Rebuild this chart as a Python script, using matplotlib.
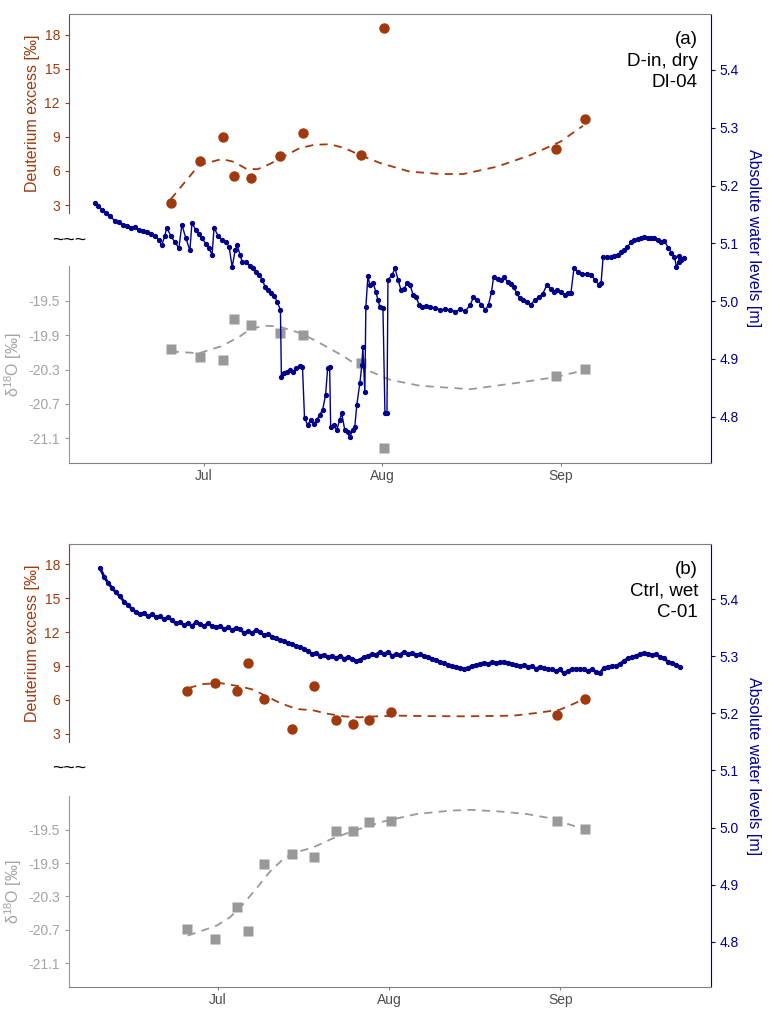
import numpy as np
import pandas as pd
import matplotlib
matplotlib.use("Agg")
import matplotlib.pyplot as plt
import matplotlib.dates as mdates

plt.rcParams['font.family'] = ['Liberation Sans', 'DejaVu Sans']
plt.rcParams['mathtext.default'] = 'regular'
plt.rcParams['axes.unicode_minus'] = False

BROWN = "#A03A0E"
GREY = "#999999"
GREY_TXT = "#A3A3A3"
NAVY = "#00008B"
FRAME = "#808080"
base = pd.Timestamp("2021-07-01")

# ---- panel (a) D-in, dry, DI-04 ----
dates_a = ["2021-06-25 06:00", "2021-06-30 06:00", "2021-07-04 06:00", "2021-07-06 06:00",
           "2021-07-09 06:00", "2021-07-14 06:00", "2021-07-18 06:00", "2021-07-28 06:00",
           "2021-08-01 06:00", "2021-08-31 06:00", "2021-09-05 06:00"]
dexcess_a = [3.15, 6.9, 9.0, 5.55, 5.35, 7.3, 9.35, 7.4, 18.6, 7.9, 10.6]
d18o_a = [-20.06, -20.15, -20.19, -19.71, -19.78, -19.88, -19.90, -20.23, -21.22, -20.38, -20.29]

# smoothed curves (days after 1 Jul)
dex_fit_a_days = [-5.8, -4.0, -0.9, 3.1, 5.2, 7.3, 9.3, 11.4, 14.0, 16.6, 19.2, 21.9, 24.5,
                  27.1, 30.6, 35.8, 41.1, 45.1, 51.0, 56.8, 62.0, 65.9]
dex_fit_a = [3.5, 4.6, 6.5, 7.05, 6.8, 6.2, 6.15, 6.6, 7.3, 8.0, 8.3, 8.35, 8.0,
             7.4, 6.7, 5.94, 5.73, 5.73, 6.38, 7.4, 8.58, 9.97]
o_fit_a_days = [-5.77, -0.87, 2.97, 6.12, 8.22, 11.01, 13.11, 16.96, 20.10, 24.13, 27.10,
                32.34, 37.59, 46.33, 55.07, 61.01, 66.08]
o_fit_a = [-20.09, -20.11, -20.03, -19.92, -19.82, -19.79, -19.80, -19.88, -19.99, -20.14,
           -20.27, -20.42, -20.49, -20.53, -20.45, -20.39, -20.31]

# water levels (days after 1 Jul, m)
days_a = [-18.88, -18.36, -17.66, -16.96, -16.26, -15.56, -14.86, -14.16, -13.46, -12.76,
          -12.06, -11.36, -10.66, -9.97, -9.27, -8.57, -7.87, -7.34, -6.82, -6.47,
          -5.77, -5.07, -4.37, -3.85, -3.15, -2.45, -2.10, -1.40, -0.87, -0.35,
          0.35, 0.87, 1.40, 1.75, 2.45, 3.15, 3.85, 4.37, 4.90, 5.42,
          5.77, 6.29, 6.64, 7.34, 8.04, 8.57, 9.09, 9.62, 10.14, 10.66,
          11.19, 11.71, 12.24, 12.76, 13.29, 13.46, 13.99, 14.51, 15.04, 15.56,
          16.08, 16.61, 17.13, 17.48, 18.01, 18.53, 19.06, 19.58, 20.11, 20.63,
          21.15, 21.50, 21.85, 22.03, 22.55, 23.08, 23.60, 23.95, 24.48, 25.00,
          25.35, 25.87, 26.22, 26.57, 27.10, 27.45, 27.62, 27.97, 28.15, 28.50,
          28.85, 29.37, 29.90, 30.25, 30.59, 31.12, 31.47, 31.82, 31.99, 32.69,
          33.22, 33.74, 34.27, 34.79, 35.32, 35.84, 36.36, 36.89, 37.41, 37.94,
          38.64, 39.34, 40.21, 41.08, 41.96, 42.83, 43.71, 44.58, 45.46, 46.33,
          46.85, 47.55, 48.25, 48.95, 49.48, 50.00, 50.35, 51.05, 51.57, 52.10,
          52.80, 53.32, 53.85, 54.37, 54.90, 55.42, 56.12, 56.82, 57.52, 58.22,
          58.92, 59.62, 60.32, 60.84, 61.36, 62.06, 62.76, 63.29, 63.81, 64.34,
          65.04, 65.74, 66.61, 67.31, 68.01, 68.71, 69.06, 69.41, 70.11, 70.81,
          71.33, 72.03, 72.55, 73.08, 73.60, 74.30, 74.83, 75.53, 76.05, 76.58,
          77.28, 77.80, 78.32, 79.02, 79.55, 80.07, 80.77, 81.30, 81.82, 82.17,
          82.52, 82.69, 83.04, 83.39]
level_a = [5.170, 5.165, 5.158, 5.153, 5.147, 5.139, 5.137, 5.132, 5.130, 5.127,
           5.128, 5.123, 5.121, 5.120, 5.116, 5.113, 5.106, 5.097, 5.113, 5.127,
           5.113, 5.102, 5.092, 5.132, 5.109, 5.088, 5.135, 5.123, 5.116, 5.109,
           5.099, 5.092, 5.080, 5.127, 5.113, 5.106, 5.102, 5.094, 5.059, 5.088,
           5.097, 5.080, 5.068, 5.068, 5.061, 5.057, 5.050, 5.045, 5.037, 5.024,
           5.019, 5.014, 5.009, 4.998, 4.985, 4.869, 4.876, 4.877, 4.881, 4.877,
           4.884, 4.888, 4.886, 4.798, 4.786, 4.794, 4.787, 4.794, 4.803, 4.812,
           4.838, 4.884, 4.886, 4.782, 4.786, 4.777, 4.794, 4.806, 4.777, 4.773,
           4.765, 4.777, 4.782, 4.820, 4.858, 4.889, 4.920, 4.842, 4.990, 5.043,
           5.028, 5.032, 5.016, 5.002, 4.990, 4.988, 4.806, 4.806, 5.037, 5.045,
           5.057, 5.037, 5.019, 5.021, 5.032, 5.028, 5.011, 5.007, 4.994, 4.990,
           4.992, 4.990, 4.988, 4.985, 4.986, 4.985, 4.982, 4.986, 4.983, 4.994,
           5.007, 5.002, 4.994, 4.985, 4.994, 5.016, 5.041, 5.039, 5.037, 5.041,
           5.034, 5.030, 5.024, 5.014, 5.005, 5.002, 4.998, 4.994, 5.002, 5.007,
           5.013, 5.028, 5.021, 5.016, 5.019, 5.016, 5.011, 5.014, 5.014, 5.057,
           5.050, 5.047, 5.047, 5.045, 5.037, 5.028, 5.032, 5.076, 5.076, 5.076,
           5.078, 5.080, 5.085, 5.088, 5.094, 5.102, 5.105, 5.107, 5.109, 5.111,
           5.109, 5.109, 5.109, 5.106, 5.102, 5.104, 5.092, 5.084, 5.076, 5.059,
           5.068, 5.078, 5.071, 5.074]

# ---- panel (b) Ctrl, wet, C-01 ----
dates_b = ["2021-06-25 10:00", "2021-06-30 10:00", "2021-07-04 10:00", "2021-07-06 10:00",
           "2021-07-09 10:00", "2021-07-14 10:00", "2021-07-18 10:00", "2021-07-22 10:00",
           "2021-07-25 10:00", "2021-07-28 10:00", "2021-08-01 10:00", "2021-08-31 10:00",
           "2021-09-05 10:00"]
dexcess_b = [6.82, 7.50, 6.82, 9.26, 6.08, 3.46, 7.23, 4.23, 3.88, 4.20, 4.90, 4.70, 6.11]
d18o_b = [-20.69, -20.81, -20.43, -20.71, -19.91, -19.79, -19.83, -19.51, -19.52, -19.41,
          -19.39, -19.39, -19.49]

dex_fit_b_days = [-5.38, -2.66, 0.36, 3.99, 6.39, 8.82, 11.23, 14.26, 17.26, 19.69, 22.70,
                  25.72, 28.75, 32.37, 38.4, 44.44, 53.5, 57.74, 61.96, 64.98, 66.36]
dex_fit_b = [7.06, 7.41, 7.50, 7.20, 6.91, 6.31, 5.73, 5.20, 5.08, 4.79, 4.55,
             4.46, 4.55, 4.61, 4.57, 4.55, 4.61, 4.85, 5.14, 5.78, 6.11]
o_fit_b_days = [-5.49, -0.24, 2.17, 4.58, 7.01, 9.42, 11.83, 13.64, 17.26, 20.89, 25.13,
                29.95, 36.0, 42.03, 45.65, 51.09, 55.92, 60.14, 66.18]
o_fit_b = [-20.77, -20.65, -20.55, -20.39, -20.20, -20.00, -19.85, -19.78, -19.71, -19.60,
           -19.50, -19.40, -19.31, -19.27, -19.26, -19.28, -19.31, -19.36, -19.49]

# logger readings, evenly spaced between first and last time
level_b_start, level_b_end = "2021-06-09 15:00", "2021-09-22 17:00"
level_b = [5.455, 5.440, 5.429, 5.420, 5.412, 5.405, 5.396, 5.390, 5.383, 5.377,
           5.374, 5.376, 5.370, 5.374, 5.369, 5.370, 5.365, 5.369, 5.363, 5.358,
           5.360, 5.355, 5.358, 5.353, 5.360, 5.357, 5.353, 5.358, 5.353, 5.351,
           5.353, 5.348, 5.351, 5.346, 5.350, 5.348, 5.341, 5.344, 5.341, 5.346,
           5.343, 5.337, 5.339, 5.334, 5.332, 5.329, 5.327, 5.323, 5.322, 5.318,
           5.317, 5.313, 5.310, 5.304, 5.306, 5.301, 5.303, 5.299, 5.301, 5.297,
           5.301, 5.296, 5.299, 5.296, 5.292, 5.294, 5.299, 5.301, 5.304, 5.303,
           5.308, 5.304, 5.308, 5.301, 5.304, 5.303, 5.308, 5.304, 5.306, 5.303,
           5.304, 5.301, 5.299, 5.296, 5.294, 5.290, 5.289, 5.285, 5.283, 5.282,
           5.280, 5.278, 5.280, 5.283, 5.285, 5.287, 5.289, 5.287, 5.290, 5.289,
           5.290, 5.290, 5.289, 5.287, 5.285, 5.283, 5.285, 5.282, 5.283, 5.278,
           5.282, 5.280, 5.278, 5.277, 5.275, 5.277, 5.270, 5.275, 5.277, 5.278,
           5.278, 5.277, 5.275, 5.277, 5.273, 5.271, 5.280, 5.282, 5.283, 5.283,
           5.287, 5.292, 5.297, 5.299, 5.301, 5.304, 5.306, 5.304, 5.303, 5.304,
           5.299, 5.297, 5.290, 5.289, 5.285, 5.282]

dex_ticks = [3, 6, 9, 12, 15, 18]
o_ticks = [-21.1, -20.7, -20.3, -19.9, -19.5]
lvl_ticks = [4.8, 4.9, 5.0, 5.1, 5.2, 5.3, 5.4]


def days(d):
    return base + pd.to_timedelta(np.array(d), unit="D")


def panel(rect_main, rect_up, rect_low, xlim_days, samples, dex, o18,
          dfit_x, dfit, ofit_x, ofit, lvl_t, lvl, lvl_lw, label, brk_y):
    ax_d = fig.add_axes(rect_up)
    ax_o = fig.add_axes(rect_low, sharex=ax_d)
    ax_w = fig.add_axes(rect_main, sharex=ax_d)
    ax_w.set_zorder(3)
    for a in (ax_d, ax_o, ax_w):
        a.patch.set_visible(False)

    t = pd.to_datetime(samples)
    ax_d.plot(days(dfit_x), dfit, color=BROWN, lw=1.3, dashes=(4.5, 3.5))
    ax_d.plot(t, dex, 'o', color=BROWN, ms=7.5, mec='none')
    ax_o.plot(days(ofit_x), ofit, color=GREY, lw=1.3, dashes=(4.5, 3.5))
    ax_o.plot(t, o18, 's', color=GREY, ms=7, mec='none')
    ax_w.plot(lvl_t, lvl, color=NAVY, lw=lvl_lw, marker='o', ms=2.8, mec=NAVY)

    ax_d.set_ylim(2.3, 19.8)
    ax_o.set_ylim(-21.39, -19.09)
    ax_w.set_ylim(4.72, 5.497)
    ax_w.set_xlim(days(xlim_days))

    for a, c, tc in ((ax_d, BROWN, BROWN), (ax_o, GREY, GREY_TXT)):
        for s in ('top', 'right', 'bottom'):
            a.spines[s].set_visible(False)
        a.spines['left'].set_color(c)
        a.tick_params(axis='x', bottom=False, labelbottom=False)
        a.tick_params(axis='y', colors=c, labelcolor=tc, labelsize=10, length=3)
    ax_d.set_yticks(dex_ticks)
    ax_o.set_yticks(o_ticks)
    ax_o.set_yticklabels([f"{v:.1f}" for v in o_ticks])
    ax_d.set_ylabel("Deuterium excess [‰]", color=BROWN, fontsize=11.5, labelpad=3)
    ax_o.set_ylabel("δ$^{18}$O [‰]", color=GREY_TXT, fontsize=11.5, labelpad=3)

    ax_w.spines['left'].set_visible(False)
    ax_w.spines['top'].set_color(FRAME)
    ax_w.spines['bottom'].set_color(FRAME)
    ax_w.spines['right'].set_color(NAVY)
    ax_w.yaxis.tick_right()
    ax_w.yaxis.set_label_position('right')
    ax_w.set_yticks(lvl_ticks)
    ax_w.set_yticklabels([f"{v:.1f}" for v in lvl_ticks])
    ax_w.tick_params(axis='y', colors=NAVY, labelsize=10, length=3)
    ax_w.tick_params(axis='x', colors=FRAME, labelcolor="#4D4D4D", labelsize=10,
                     length=2.5, pad=1.5)
    ax_w.xaxis.set_major_locator(mdates.MonthLocator(bymonth=[7, 8, 9]))
    ax_w.xaxis.set_major_formatter(mdates.DateFormatter('%b'))
    ax_w.set_ylabel("Absolute water levels [m]", color=NAVY, fontsize=11.5,
                    rotation=-90, labelpad=16)
    ax_w.text(0.98, 0.962, label, transform=ax_w.transAxes, ha='right', va='top',
              fontsize=13.5, linespacing=1.35)
    fig.text(rect_main[0], brk_y, "~~~", ha='center', va='center', fontsize=14)


fig = plt.figure(figsize=(7.69, 10.10), dpi=100)
L, W = 0.0897, 0.8345

panel([L, 0.5416, W, 0.4446], [L, 0.7891, W, 0.1970], [L, 0.5416, W, 0.1953],
      [-23.48, 88.12], dates_a, dexcess_a, d18o_a,
      dex_fit_a_days, dex_fit_a, o_fit_a_days, o_fit_a,
      days(days_a), level_a, 1.0, "(a)\nD-in, dry\nDI-04", 1 - 240 / 1010)

t_b = pd.date_range(level_b_start, level_b_end, periods=len(level_b))
panel([L, 0.0225, W, 0.4389], [L, 0.2656, W, 0.1957], [L, 0.0225, W, 0.1897],
      [-27.0, 89.26], dates_b, dexcess_b, d18o_b,
      dex_fit_b_days, dex_fit_b, o_fit_b_days, o_fit_b,
      t_b, level_b, 2.0, "(b)\nCtrl, wet\nC-01", 1 - 768 / 1010)

fig.savefig("out.png", dpi=100, facecolor='white')
